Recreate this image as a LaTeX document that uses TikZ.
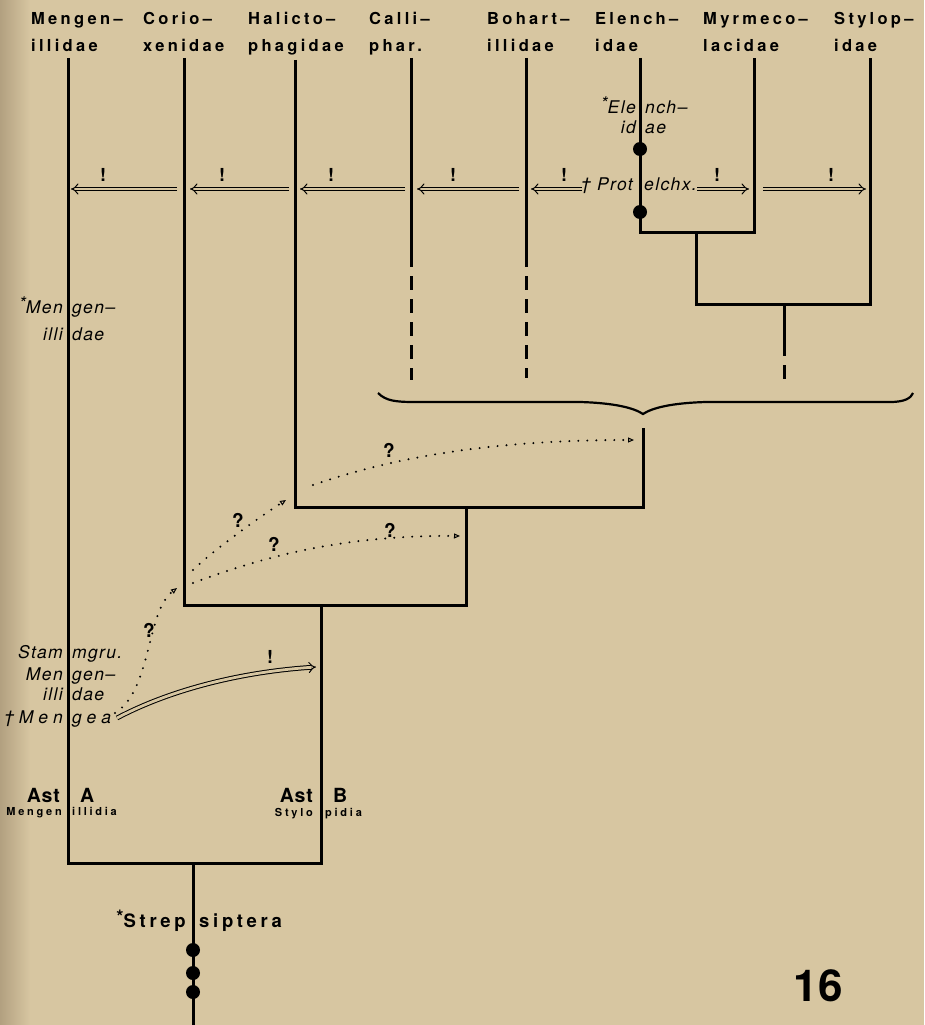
\documentclass[tikz,border=0pt]{standalone}
\usepackage{fontspec}
\setmainfont{TeX Gyre Heros}
\setsansfont{TeX Gyre Heros}
\newfontfamily\hdrfont{TeX Gyre Heros}[LetterSpace=20]
\newfontfamily\itfont{TeX Gyre Heros}[LetterSpace=8]
\newfontfamily\wideit{TeX Gyre Heros}[LetterSpace=28]
\newfontfamily\smallfont{TeX Gyre Heros}[LetterSpace=25]
\newfontfamily\gradefont{TeX Gyre Heros}[LetterSpace=4]
\usetikzlibrary{arrows.meta,positioning}
\definecolor{paper}{RGB}{215,198,161}
\definecolor{paperdark}{RGB}{178,160,128}

\begin{document}
\begin{tikzpicture}[x=1pt, y=-1pt,
  branch/.style={line width=3pt},
  dashbranch/.style={line width=3pt, dash pattern=on 14pt off 9pt},
  taxon/.style={font=\hdrfont\bfseries\fontsize{16.5}{27}\selectfont,
                align=left, anchor=base west, inner sep=0pt},
  lab/.style={font=\itfont\itshape\fontsize{17.5}{18}\selectfont, inner sep=0pt},
  grade/.style={font=\gradefont\bfseries\fontsize{19.5}{20}\selectfont, inner sep=0pt},
  sublab/.style={font=\smallfont\bfseries\fontsize{11}{12}\selectfont, inner sep=0pt},
  sure/.style={line width=1pt, double=paper, double distance=2.8pt, -{Implies[scale=1.3]}},
  maybe/.style={line width=2.2pt, line cap=round, dash pattern=on 0pt off 9pt,
                -{Triangle[open, length=6pt, width=5pt, line width=1pt]}},
  bang/.style={font=\bfseries\fontsize{18}{18}\selectfont, inner sep=0pt},
  query/.style={font=\bfseries\fontsize{19}{19}\selectfont, inner sep=0pt},
  dot/.style={circle, fill=black, inner sep=0pt, minimum size=14pt}
]
  \useasboundingbox (0,0) rectangle (924,1025);
  \fill[paper] (0,0) rectangle (924,1025);
  \shade[left color=paperdark, right color=paper] (0,0) rectangle (30,1025);

  % family names
  \node[taxon] (hMen) at (31,52)  {Mengen–\\illidae};
  \node[taxon] (hCor) at (143,52) {Corio–\\xenidae};
  \node[taxon] (hHal) at (248,52) {Halicto–\\phagidae};
  \node[taxon] (hCal) at (369,52) {Calli–\\phar.};
  \node[taxon] (hBoh) at (487,52) {Bohart–\\illidae};
  \node[taxon] (hEle) at (595,52) {Elench–\\idae};
  \node[taxon] (hMyr) at (703,52) {Myrmeco–\\lacidae};
  \node[taxon] (hSty) at (834,52) {Stylop–\\idae};

  % branch tops and joints
  \coordinate (cMen) at (68,58);
  \coordinate (cCor) at (184,58);
  \coordinate (cHal) at (295,60);
  \coordinate (cCal) at (411,58);
  \coordinate (cBoh) at (526,58);
  \coordinate (cEle) at (640,58);
  \coordinate (cMyr) at (754,58);
  \coordinate (cSty) at (870,58);
  \coordinate (kB) at (321,863);  \coordinate (jB) at (321,605);
  \coordinate (kC) at (466,605);  \coordinate (jC) at (466,507);
  \coordinate (kD) at (643,507);  \coordinate (jD) at (643,428);
  \coordinate (kE) at (754,232);  \coordinate (jE) at (696,232);
  \coordinate (kF) at (870,304);  \coordinate (jF) at (696,304);
  \coordinate (mF) at (784,304);  \coordinate (dF) at (784,350);
  \coordinate (eF) at (784,387);
  \coordinate (dCal) at (411,263); \coordinate (eCal) at (411,380);
  \coordinate (dBoh) at (526,263); \coordinate (eBoh) at (526,378);
  \coordinate (rTop) at (193,863); \coordinate (rBot) at (193,1025);

  \draw[branch] (cMen) |- (kB) -- (jB);
  \draw[branch] (cCor) |- (kC) -- (jC);
  \draw[branch] (cHal) |- (kD) -- (jD);
  \draw[branch] (cEle) |- (kE) -- (cMyr);
  \draw[branch] (jE) -- (jF) -- (kF) -- (cSty);
  \draw[branch] (mF) -- (dF);
  \draw[dashbranch] ([yshift=8pt]dF) -- (eF);
  \draw[branch] (cCal) -- (dCal);
  \draw[dashbranch] ([yshift=10pt]dCal) -- (eCal);
  \draw[branch] (cBoh) -- (dBoh);
  \draw[dashbranch] ([yshift=10pt]dBoh) -- (eBoh);
  \draw[branch] (rTop) -- (rBot);

  % brace over the stylopid families
  \draw[line width=2.2pt] (378,393) .. controls (386,401) and (396,402) .. (415,402)
    -- (580,402) .. controls (615,403) and (634,408) .. (643,414)
    .. controls (652,408) and (671,403) .. (706,402)
    -- (890,402) .. controls (905,402) and (911,398) .. (913,393);

  % apomorphy dots
  \node[dot] (d1) at (640,149) {};
  \node[dot] (d2) at (640,212) {};
  \node[dot] (d3) at (193,950) {};
  \node[dot] (d4) at (193,973) {};
  \node[dot] (d5) at (193,992) {};

  % double arrows
  \foreach \a/\b/\t in {177/71/103, 289/190/222, 405/300/331, 519/417/453,
                        582/531/564, 697/749/717, 763/866/831} {
    \coordinate (s\a) at (\a,189);
    \coordinate (e\a) at (\b,189);
    \draw[sure] (s\a) -- (e\a);
    \node[bang] (b\a) at (\t,175) {!};
  }

  % fossil and stem-group labels
  \node[lab, anchor=base east] (menL) at (63,313) {\raisebox{0.35ex}{*}Men};
  \node[lab, anchor=base west] (menR) at (72,313) {gen–};
  \node[lab, anchor=base east] (illL) at (63,340) {illi};
  \node[lab, anchor=base west] (illR) at (72,340) {dae};
  \node[lab, anchor=base east] (stmL) at (63,658) {Stam};
  \node[lab, anchor=base west] (stmR) at (72,658) {mgru.};
  \node[lab, anchor=base east] (sm2L) at (63,680) {Men};
  \node[lab, anchor=base west] (sm2R) at (72,680) {gen–};
  \node[lab, anchor=base east] (si2L) at (63,700) {illi};
  \node[lab, anchor=base west] (si2R) at (72,700) {dae};
  \node[lab, anchor=base east, font=\wideit\itshape\fontsize{17.5}{18}\selectfont]
    (mgaL) at (63,723) {†Men};
  \node[lab, anchor=base west, font=\wideit\itshape\fontsize{17.5}{18}\selectfont]
    (mgaR) at (72,723) {gea};
  \node[lab, anchor=base east] (elcL) at (636,113) {\raisebox{0.35ex}{*}Ele};
  \node[lab, anchor=base west] (elcR) at (645,113) {nch–};
  \node[lab, anchor=base east] (eidL) at (636,133) {id};
  \node[lab, anchor=base west] (eidR) at (645,133) {ae};
  \node[lab, anchor=base east] (proL) at (633,190) {† Prot};
  \node[lab, anchor=base west] (proR) at (644,190) {elchx.};

  % grades
  \node[grade, anchor=base east] (astA) at (60,802) {Ast};
  \node[grade, anchor=base west] (grA) at (80,802) {A};
  \node[sublab, anchor=base east] (subAL) at (62,815) {Mengen};
  \node[sublab, anchor=base west] (subAR) at (72,815) {illidia};
  \node[grade, anchor=base east] (astB) at (313,802) {Ast};
  \node[grade, anchor=base west] (grB) at (333,802) {B};
  \node[sublab, anchor=base east] (subBL) at (313,816) {Stylo};
  \node[sublab, anchor=base west] (subBR) at (325,816) {pidia};
  \node[grade, anchor=base east, font=\hdrfont\bfseries\fontsize{18.5}{20}\selectfont]
    (strL) at (186,927) {\raisebox{0.35ex}{*}Strep};
  \node[grade, anchor=base west, font=\hdrfont\bfseries\fontsize{18.5}{20}\selectfont]
    (strR) at (199,927) {siptera};

  % uncertain relationships
  \coordinate (qA1) at (193,570); \coordinate (qA2) at (286,500);
  \coordinate (qB1) at (193,583); \coordinate (qB2) at (460,536);
  \coordinate (qC1) at (313,485); \coordinate (qC2) at (634,440);
  \coordinate (qD1) at (115,713); \coordinate (qD2) at (177,588);
  \draw[maybe] (qA1) .. controls (210,553) and (255,520) .. (qA2);
  \draw[maybe] (qB1) .. controls (260,558) and (340,535) .. (qB2);
  \draw[maybe] (qC1) .. controls (400,455) and (500,440) .. (qC2);
  \draw[maybe] (qD1) .. controls (152,690) and (146,612) .. (qD2);
  \node[query] (q1) at (238,520) {?};
  \node[query] (q2) at (274,544) {?};
  \node[query] (q3) at (390,530) {?};
  \node[query] (q4) at (389,450) {?};
  \node[query] (q5) at (149,630) {?};

  % Mengea to Ast B
  \coordinate (mg1) at (117,718); \coordinate (mg2) at (316,667);
  \draw[sure] (mg1) .. controls (170,690) and (240,672) .. (mg2);
  \node[bang] (bmg) at (270,657) {!};

  \node[font=\bfseries\fontsize{44}{44}\selectfont, inner sep=0pt] (fig) at (818,986) {16};
\end{tikzpicture}
\end{document}
